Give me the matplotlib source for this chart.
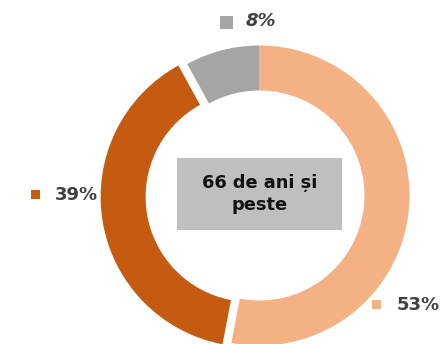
import matplotlib
matplotlib.use("Agg")
import matplotlib.pyplot as plt
from matplotlib.patches import Rectangle

# Age group share: 66 years and over
labels = ["53%", "39%", "8%"]
values = [53, 39, 8]
colors = ["#F4B183", "#C55A11", "#A5A5A5"]
explode = [0, 0.06, 0]
center_title = "66 de ani și\npeste"

W, H = 443, 344
fig = plt.figure(figsize=(W / 100, H / 100), dpi=100)
ax = fig.add_axes([0, 0, 1, 1])

scale = 150.0          # pixels per unit radius
cx, cy = 259.5, 195.5  # donut centre in pixel coords (from top-left)

def px(x, y):
    return (x - cx) / scale, (cy - y) / scale

ax.pie(values, colors=colors, explode=explode, startangle=90,
       counterclock=False, radius=1.0,
       wedgeprops=dict(width=0.30, edgecolor="none"))

ax.set_xlim(-cx / scale, (W - cx) / scale)
ax.set_ylim(-(H - cy) / scale, cy / scale)
ax.set_aspect("equal")
ax.axis("off")

# centre box
x0, y0 = px(177, 230)
x1, y1 = px(342, 158)
ax.add_patch(Rectangle((x0, y0), x1 - x0, y1 - y0, facecolor="#BFBFBF",
                       edgecolor="none", zorder=3))
tx, ty = px(259.5, 194)
ax.text(tx, ty, center_title, ha="center", va="center", fontsize=12.8,
        fontweight="bold", color="#111111", linespacing=1.25, zorder=4)

# data labels with colour keys
label_pos = [  # (square x, square y, square size px, text x, text y, italic)
    (376.5, 304.5, 9, 397, 305, False),
    (35.5, 194.5, 9, 55, 195, False),
    (226.5, 22.5, 13, 246, 21, True),
]
for lab, col, (sx, sy, ss, tx_, ty_, it) in zip(labels, colors, label_pos):
    a, b = px(sx - ss / 2, sy + ss / 2)
    ax.add_patch(Rectangle((a, b), ss / scale, ss / scale, facecolor=col,
                           edgecolor="none", clip_on=False))
    lx, ly = px(tx_, ty_)
    ax.text(lx, ly, lab, ha="left", va="center", fontsize=13,
            fontweight="bold", style="italic" if it else "normal",
            color="#404040")

fig.savefig("out.png", dpi=100)
